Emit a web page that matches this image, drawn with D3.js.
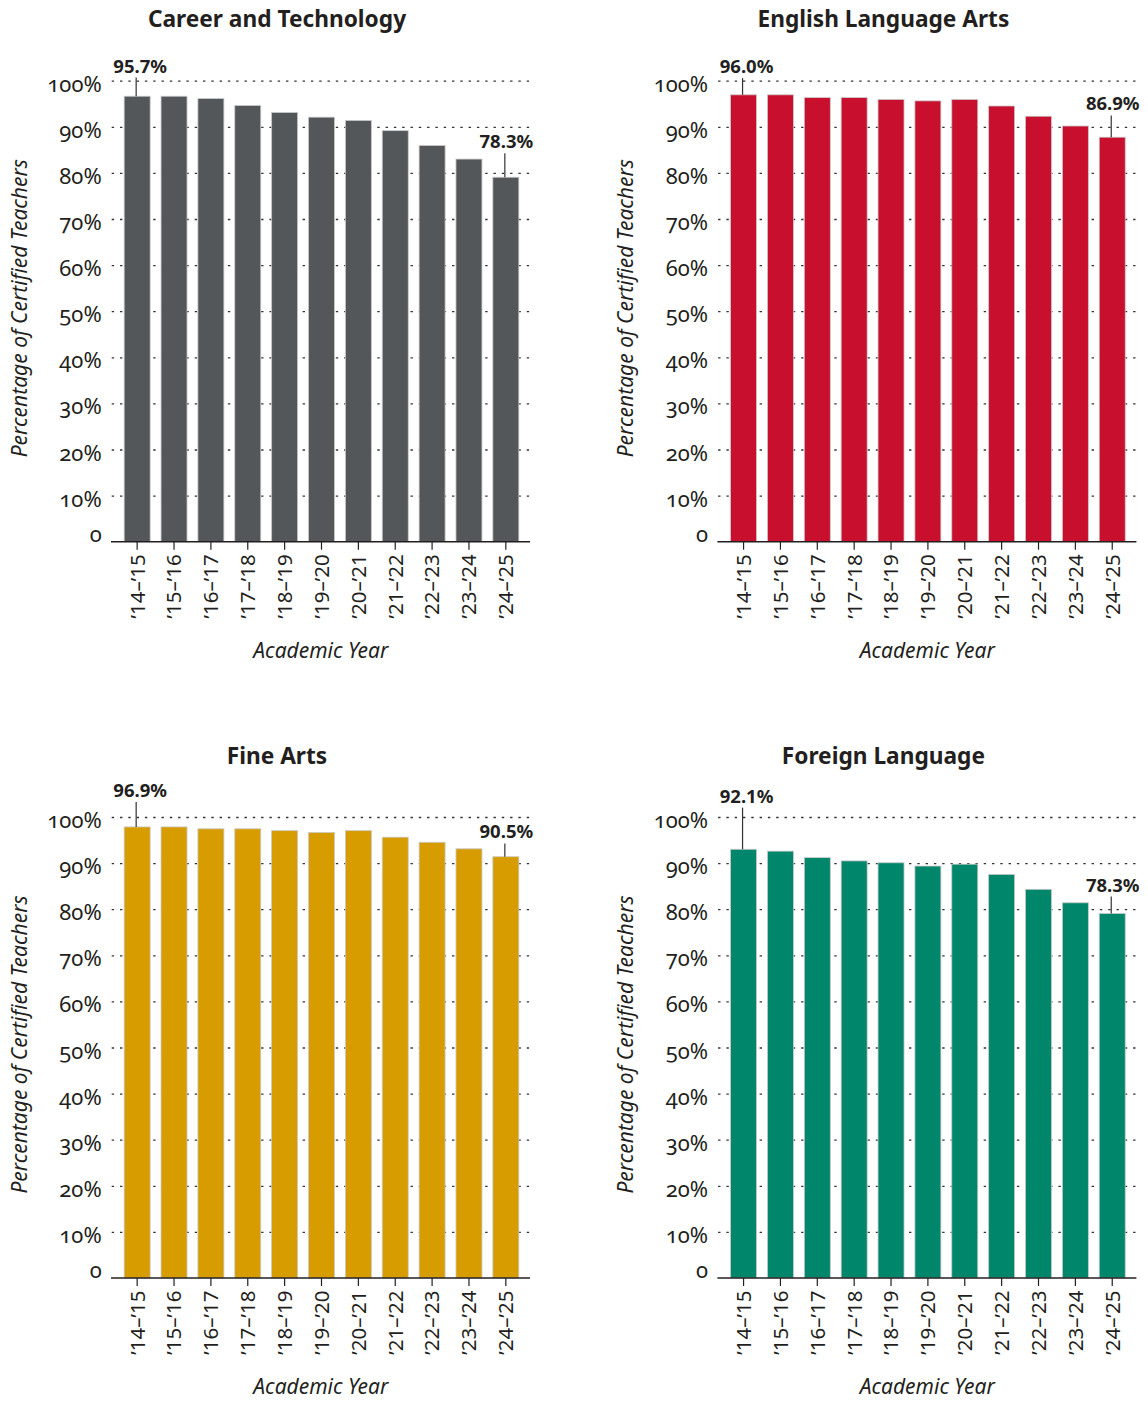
<!DOCTYPE html>
<html>
<head>
<meta charset="utf-8">
<script src="https://cdn.jsdelivr.net/npm/d3@7"></script>
<style>
  html, body { margin: 0; padding: 0; background: #fff; }
  svg { display: block; }
  text { font-family: "Noto Sans", "Open Sans", sans-serif; fill: #231f20; }
  .ytick text { font-variant-numeric: oldstyle-nums; }
</style>
</head>
<body>
<svg id="chart" width="1148" height="1401"></svg>
<script>
// ---------- data ----------
const years = ["’14–’15", "’15–’16", "’16–’17", "’17–’18", "’18–’19", "’19–’20",
               "’20–’21", "’21–’22", "’22–’23", "’23–’24", "’24–’25"];
const careerTechnology = [95.7, 95.7, 95.2, 93.7, 92.2, 91.2, 90.5, 88.3, 85.1, 82.2, 78.3];
const englishLanguageArts = [96.0, 96.0, 95.4, 95.4, 95.0, 94.7, 95.0, 93.6, 91.4, 89.3, 86.9];
const fineArts = [96.9, 96.9, 96.5, 96.5, 96.1, 95.7, 96.1, 94.7, 93.6, 92.2, 90.5];
const foreignLanguage = [92.1, 91.7, 90.3, 89.6, 89.2, 88.5, 88.9, 86.7, 83.5, 80.6, 78.3];
const panelTitles = ["Career and Technology", "English Language Arts", "Fine Arts", "Foreign Language"];
const yTickValues = [0, 10, 20, 30, 40, 50, 60, 70, 80, 90, 100];
const yTickLabels = ["0", "10%", "20%", "30%", "40%", "50%", "60%", "70%", "80%", "90%", "100%"];
const yAxisTitle = "Percentage of Certified Teachers";
const xAxisTitle = "Academic Year";

// ---------- layout / style ----------
const panelColors = ["#54575a", "#c8102e", "#d69c00", "#00876b"];
const panelOffsets = [[0, 0], [606.4, 0], [0, 736.3], [606.4, 736.3]];
// leader line lengths (px) for first / last bar annotations
const leaderLengths = [[18.7, 24], [16.7, 21.7], [25, 13.3], [41.6, 17]];
const P = { left: 111.7, right: 530, base: 541.7, gridTop: 80.7, barTop: 76.2 };

const panelValues = [careerTechnology, englishLanguageArts, fineArts, foreignLanguage];

const svg = d3.select("#chart");

panelValues.forEach((values, i) => {
  const g = svg.append("g").attr("transform", `translate(${panelOffsets[i][0]},${panelOffsets[i][1]})`);
  const data = years.map((y, j) => ({ year: y, value: values[j] }));

  const x = d3.scaleBand().domain(years).range([112, 531]).paddingInner(0.295).paddingOuter(0.33);
  const yGrid = d3.scaleLinear().domain([0, 100]).range([P.base, P.gridTop]);
  const yBar = d3.scaleLinear().domain([0, 100]).range([P.base, P.barTop]);

  // title
  g.append("text")
    .attr("x", 277).attr("y", 27.3)
    .attr("text-anchor", "middle")
    .style("font-size", "22.7px").style("font-weight", "700")
    .text(panelTitles[i]);

  // y axis with dotted gridlines
  const yAxis = d3.axisLeft(yGrid)
    .tickValues(yTickValues)
    .tickSize(-(P.right - P.left))
    .tickPadding(10)
    .tickFormat((d, k) => yTickLabels[k]);
  const ya = g.append("g").attr("class", "ytick")
    .attr("transform", `translate(${P.left},0)`)
    .call(yAxis);
  ya.select(".domain").remove();
  ya.selectAll(".tick line")
    .attr("stroke", "#333")
    .attr("stroke-width", 1.3)
    .attr("stroke-dasharray", "2.4 5.9")
    .attr("display", d => d === 0 ? "none" : null);
  ya.selectAll(".tick text")
    .attr("dy", null)
    .attr("y", d => d === 0 ? -0.5 : 10.5)
    .style("font-size", "22px")
    .style("font-family", "\"Noto Sans\", sans-serif")
    .attr("fill", "#231f20");

  // bars
  g.append("g").selectAll("rect")
    .data(data)
    .join("rect")
    .attr("x", d => x(d.year))
    .attr("width", x.bandwidth())
    .attr("y", d => yBar(d.value))
    .attr("height", d => P.base - yBar(d.value))
    .attr("fill", panelColors[i])
    .attr("stroke", "#c9c9c9")
    .attr("stroke-width", 0.8);

  // x axis
  const xAxis = d3.axisBottom(x).tickSize(8).tickSizeOuter(0);
  const xa = g.append("g")
    .attr("transform", `translate(0,${P.base})`)
    .call(xAxis);
  xa.select(".domain")
    .attr("d", `M${P.left - 0.7},0H${P.right}`)
    .attr("stroke", "#231f20").attr("stroke-width", 1.6);
  xa.selectAll(".tick line").attr("stroke", "#231f20").attr("stroke-width", 1.2);
  xa.selectAll(".tick text")
    .attr("transform", "rotate(-90)")
    .attr("text-anchor", "end")
    .attr("x", -12.5)
    .attr("y", 0)
    .attr("dy", "0.36em")
    .style("font-size", "20.5px")
    .style("font-family", "\"Noto Sans\", sans-serif")
    .attr("fill", "#231f20");

  // axis titles
  g.append("text")
    .attr("transform", `translate(27,${(P.base + P.gridTop) / 2 - 3}) rotate(-90)`)
    .attr("text-anchor", "middle")
    .style("font-size", "21px").style("font-style", "italic")
    .text(yAxisTitle);
  g.append("text")
    .attr("x", (P.left + P.right) / 2).attr("y", 658)
    .attr("text-anchor", "middle")
    .style("font-size", "21px").style("font-style", "italic")
    .text(xAxisTitle);

  // annotations for first and last bars
  const ends = [data[0], data[data.length - 1]];
  ends.forEach((d, k) => {
    const cx = x(d.year) + x.bandwidth() / 2 - 1;
    const yTop = yBar(d.value);
    const lineTop = yTop - leaderLengths[i][k];
    g.append("line")
      .attr("x1", cx).attr("x2", cx)
      .attr("y1", yTop).attr("y2", lineTop)
      .attr("stroke", "#333").attr("stroke-width", 1.2);
    g.append("text")
      .attr("x", cx + (k === 0 ? 4 : 1.5))
      .attr("y", lineTop - 5)
      .attr("text-anchor", "middle")
      .style("font-size", "18.5px").style("font-weight", "700")
      .text(d3.format(".1f")(d.value) + "%");
  });
});
</script>
</body>
</html>
